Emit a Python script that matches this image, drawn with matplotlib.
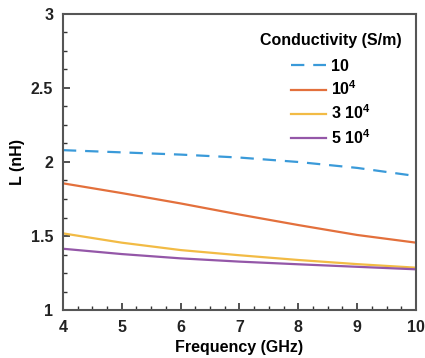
import matplotlib
matplotlib.use("Agg")
import matplotlib.pyplot as plt
from matplotlib.ticker import MultipleLocator

plt.rcParams['font.family'] = ['Liberation Sans', 'DejaVu Sans']
plt.rcParams['font.weight'] = 'bold'
plt.rcParams['mathtext.fontset'] = 'custom'
plt.rcParams['mathtext.bf'] = 'Liberation Sans:bold'
plt.rcParams['mathtext.rm'] = 'Liberation Sans:bold'
plt.rcParams['mathtext.default'] = 'bf'

freq = [4, 5, 6, 7, 8, 9, 10]
L_10 = [2.08, 2.065, 2.05, 2.03, 2.00, 1.96, 1.905]
L_1e4 = [1.856, 1.79, 1.72, 1.645, 1.574, 1.507, 1.455]
L_3e4 = [1.518, 1.455, 1.405, 1.37, 1.338, 1.31, 1.286]
L_5e4 = [1.414, 1.378, 1.349, 1.327, 1.309, 1.292, 1.275]
labels = ['10', '10$^4$', '3 10$^4$', '5 10$^4$']

fig = plt.figure(figsize=(4.25, 3.58), dpi=100)
ax = fig.add_axes([0.148, 0.134, 0.831, 0.827])

ax.plot(freq, L_10, '--', color='#3a9ad9', lw=1.6, dashes=(6, 4), label=labels[0])
ax.plot(freq, L_1e4, '-', color='#e3703c', lw=1.6, label=labels[1])
ax.plot(freq, L_3e4, '-', color='#f2bb45', lw=1.6, label=labels[2])
ax.plot(freq, L_5e4, '-', color='#9457a8', lw=1.6, label=labels[3])

ax.set_xlim(4, 10)
ax.set_ylim(1, 3)
ax.xaxis.set_major_locator(MultipleLocator(1))
ax.xaxis.set_minor_locator(MultipleLocator(0.25))
ax.yaxis.set_minor_locator(MultipleLocator(0.125))
ax.set_yticks([1, 1.5, 2, 2.5, 3])
ax.set_yticklabels(['1', '1.5', '2', '2.5', '3'])
ax.tick_params(which='both', direction='in', top=False, right=False,
               labelsize=11.5, colors='#333333', labelcolor='#222222')
ax.tick_params(which='major', length=5, width=1.2, pad=7)
ax.tick_params(which='minor', length=3, width=1.0)
for s in ax.spines.values():
    s.set_color('#555555')
    s.set_linewidth(1.5)

ax.set_xlabel('Frequency (GHz)', fontsize=11.5, fontweight='bold', labelpad=4)
ax.set_ylabel('L (nH)', fontsize=11.5, fontweight='bold', labelpad=4)

leg = ax.legend(title='Conductivity (S/m)', loc='upper right', frameon=False,
                fontsize=11.5, title_fontsize=11.5, handlelength=2.2,
                handletextpad=0.3, labelspacing=0.35,
                bbox_to_anchor=(1.0, 0.985))
leg.get_title().set_fontweight('bold')
leg._legend_box.sep = 8

plt.savefig('out.png', dpi=100)
